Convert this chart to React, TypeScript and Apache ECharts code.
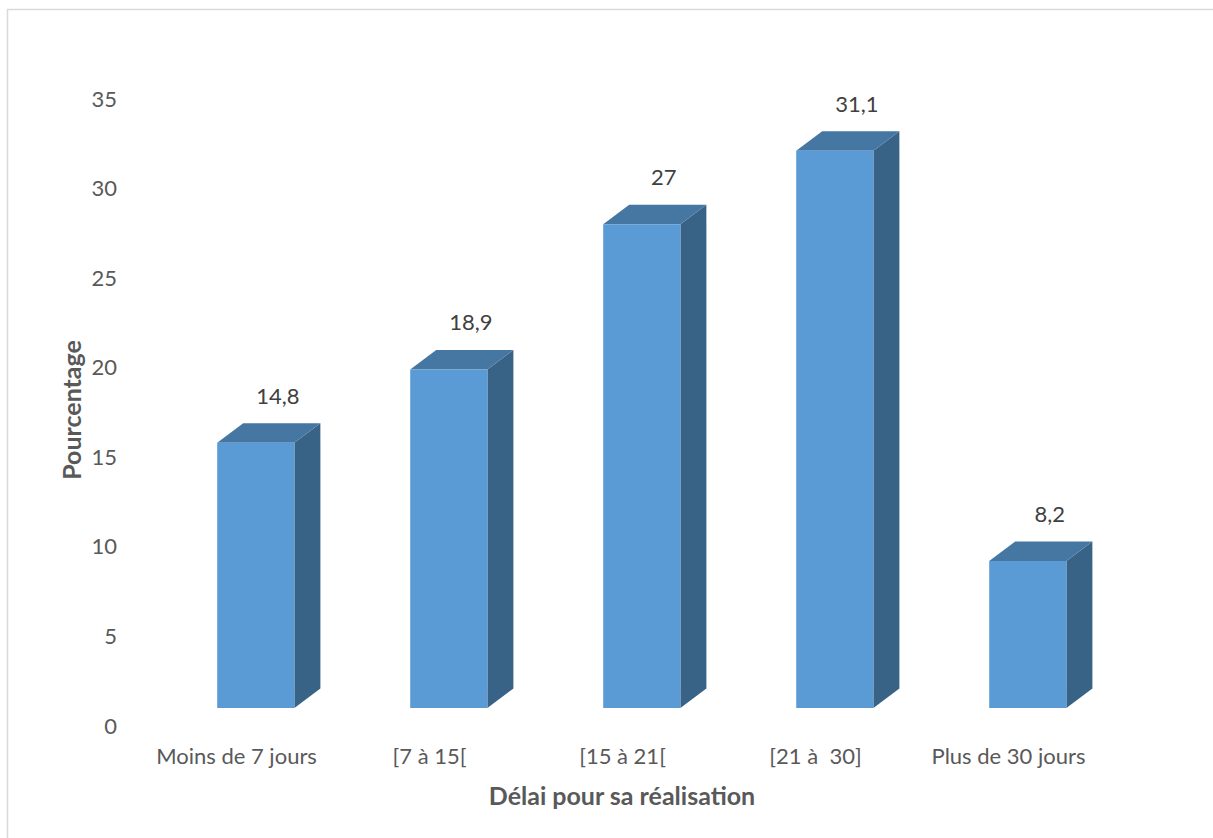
import React, { useEffect, useRef } from "react";
import * as echarts from "echarts";

const categories = ["Moins de 7 jours", "[7 à 15[", "[15 à 21[", "[21 à  30]", "Plus de 30 jours"];
const values = [14.8, 18.9, 27, 31.1, 8.2];
const valueLabels = ["14,8", "18,9", "27", "31,1", "8,2"];
const yTicks = [0, 5, 10, 15, 20, 25, 30, 35];

const FONT = "Lato, 'Open Sans', sans-serif";

export default function App() {
  const ref = useRef<HTMLDivElement>(null);
  useEffect(() => {
    document.body.style.margin = "0";
    const chart = echarts.init(ref.current!, null, { renderer: "svg" });
    const DX = 26;
    const DY = 19.5;
    const FRONT_SHIFT = 17;
    const option: any = {
      animation: false,
      backgroundColor: "#ffffff",
      grid: { left: 140, right: 108, top: 98, bottom: 113 },
      xAxis: {
        type: "category",
        data: categories,
        axisLine: { show: false },
        axisTick: { show: false },
        splitLine: { show: false },
        axisLabel: { color: "#595959", fontSize: 22, fontFamily: FONT, margin: 19, interval: 0 },
      },
      yAxis: {
        type: "value",
        min: yTicks[0],
        max: yTicks[yTicks.length - 1],
        interval: 5,
        axisLine: { show: false },
        axisTick: { show: false },
        splitLine: { show: false },
        axisLabel: { color: "#595959", fontSize: 22, fontFamily: FONT, margin: 23 },
      },
      graphic: [
        {
          type: "rect",
          shape: { x: 7.5, y: 9.5, width: 1220, height: 860 },
          style: { fill: "none", stroke: "#d9d9d9", lineWidth: 1.5 },
          silent: true,
          z: -10,
        },
        {
          type: "text",
          x: 622,
          y: 795,
          style: {
            text: "Délai pour sa réalisation",
            fill: "#595959",
            font: `bold 25px ${FONT}`,
            textAlign: "center",
            textVerticalAlign: "middle",
          },
        },
        {
          type: "text",
          x: 71,
          y: 410,
          rotation: Math.PI / 2,
          style: {
            text: "Pourcentage",
            fill: "#595959",
            font: `bold 25px ${FONT}`,
            textAlign: "center",
            textVerticalAlign: "middle",
          },
        },
      ],
      series: [
        {
          type: "custom",
          data: values.map((v, i) => [i, v]),
          renderItem: (params: any, api: any) => {
            const idx = api.value(0);
            const v = api.value(1);
            const top = api.coord([idx, v]);
            const base = api.coord([idx, 0]);
            const band = api.size([1, 0])[0];
            const w = band * 0.4;
            const x0 = top[0] - band * 0.1;
            const x1 = x0 + w;
            const yt = top[1] - FRONT_SHIFT;
            const yb = base[1] - FRONT_SHIFT;
            return {
              type: "group",
              children: [
                {
                  type: "polygon",
                  shape: { points: [[x1, yt], [x1 + DX, yt - DY], [x1 + DX, yb - DY], [x1, yb]] },
                  style: { fill: "#386387" },
                },
                {
                  type: "polygon",
                  shape: { points: [[x0, yt], [x0 + DX, yt - DY], [x1 + DX, yt - DY], [x1, yt]] },
                  style: { fill: "#4676A2" },
                },
                {
                  type: "rect",
                  shape: { x: x0, y: yt, width: w, height: yb - yt },
                  style: { fill: "#5B9BD5" },
                },
                {
                  type: "text",
                  x: (x0 + x1) / 2 + 22,
                  y: yt - DY - 28,
                  style: {
                    text: valueLabels[params.dataIndex],
                    fill: "#404040",
                    font: `22px ${FONT}`,
                    textAlign: "center",
                    textVerticalAlign: "middle",
                  },
                },
              ],
            };
          },
        },
      ],
    };
    chart.setOption(option);
    return () => chart.dispose();
  }, []);
  return <div ref={ref} style={{ position: "fixed", left: 0, top: 0, width: 1213, height: 838 }} />;
}
